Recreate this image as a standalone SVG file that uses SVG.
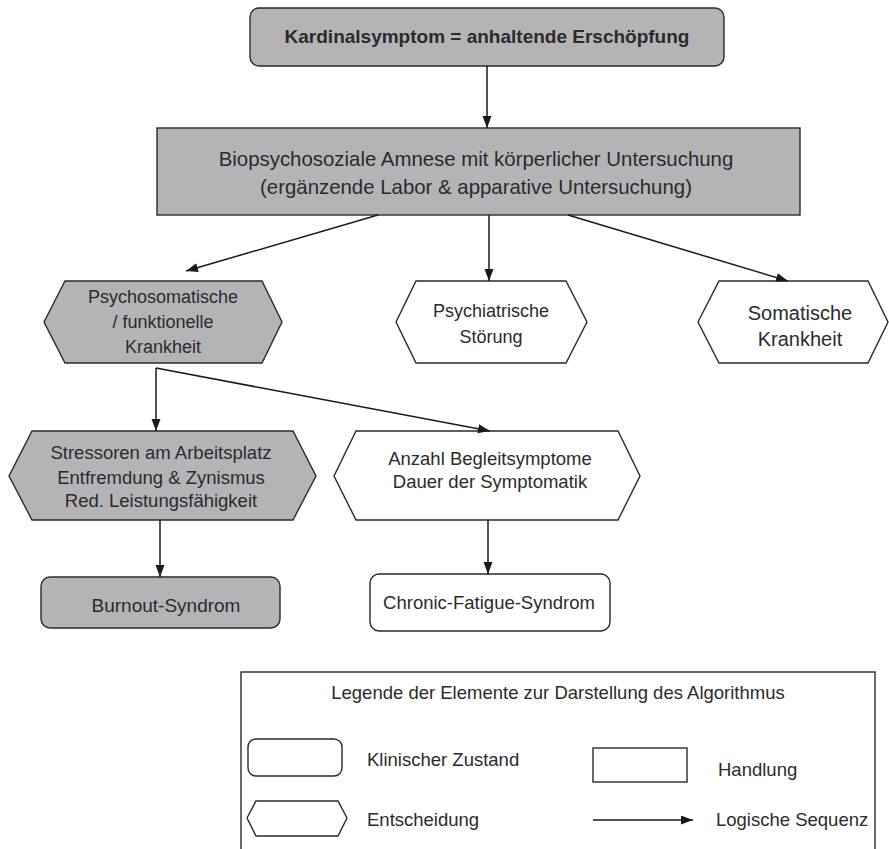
<svg xmlns="http://www.w3.org/2000/svg" width="889" height="849" viewBox="0 0 889 849">
<defs>
<marker id="ah" markerUnits="userSpaceOnUse" markerWidth="13" markerHeight="11" refX="12" refY="4.5" orient="auto">
<path d="M0,0 L12,4.5 L0,9 Z" fill="#1a1a1a"/>
</marker>
</defs>
<style>
.g{fill:#b4b4b7;stroke:#2a2a2a;stroke-width:1.4}
.w{fill:#ffffff;stroke:#2a2a2a;stroke-width:1.4}
.t{font-family:"Liberation Sans",Arial,sans-serif;fill:#2b2b2b;text-anchor:middle}
.l{font-family:"Liberation Sans",Arial,sans-serif;fill:#2b2b2b;font-size:18.5px}
.c{fill:none;stroke:#1a1a1a;stroke-width:1.5;marker-end:url(#ah)}
</style>
<rect width="889" height="849" fill="#ffffff"/>
<g id="n-kardinal">
<rect class="g" x="250" y="8" width="474" height="58" rx="9"/>
<text class="t" x="487" y="43" font-size="19" font-weight="bold">Kardinalsymptom = anhaltende Erschöpfung</text>
</g>
<g id="n-anamnese">
<rect class="g" x="157" y="128" width="643" height="87"/>
<text class="t" x="476" y="166" font-size="20.4">Biopsychosoziale Amnese mit körperlicher Untersuchung</text>
<text class="t" x="476" y="194" font-size="20.4">(ergänzende Labor &amp; apparative Untersuchung)</text>
</g>
<g id="n-psychosomatisch">
<polygon class="g" points="44,322 65,281 262,281 282,322 262,363 65,363"/>
<text class="t" x="163" y="303" font-size="18">Psychosomatische</text>
<text class="t" x="163" y="328" font-size="18">/ funktionelle</text>
<text class="t" x="163" y="353" font-size="18">Krankheit</text>
</g>
<g id="n-psychiatrisch">
<polygon class="w" points="396,322 416,281 566,281 587,322 566,363 416,363"/>
<text class="t" x="491" y="317" font-size="18">Psychiatrische</text>
<text class="t" x="491" y="343" font-size="18">Störung</text>
</g>
<g id="n-somatisch">
<polygon class="w" points="698,322 719,281 868,281 888,322 868,363 719,363"/>
<text class="t" x="800" y="320" font-size="20">Somatische</text>
<text class="t" x="800" y="346" font-size="20">Krankheit</text>
</g>
<g id="n-stressoren">
<polygon class="g" points="9,476 32,431 293,431 316,476 293,520 32,520"/>
<text class="t" x="161" y="459" font-size="18.5">Stressoren am Arbeitsplatz</text>
<text class="t" x="161" y="484" font-size="18.5">Entfremdung &amp; Zynismus</text>
<text class="t" x="161" y="507" font-size="18.5">Red. Leistungsfähigkeit</text>
</g>
<g id="n-anzahl">
<polygon class="w" points="334,476 356,431 618,431 640,476 618,520 356,520"/>
<text class="t" x="490" y="465" font-size="18.5">Anzahl Begleitsymptome</text>
<text class="t" x="490" y="488" font-size="18.5">Dauer der Symptomatik</text>
</g>
<g id="n-burnout">
<rect class="g" x="41" y="577" width="239" height="51" rx="9"/>
<text class="t" x="166" y="612" font-size="19">Burnout-Syndrom</text>
</g>
<g id="n-cfs">
<rect class="w" x="370" y="574" width="240" height="57" rx="9"/>
<text class="t" x="489" y="609" font-size="18.5">Chronic-Fatigue-Syndrom</text>
</g>
<g id="connectors">
<line class="c" x1="487" y1="66" x2="487" y2="128"/>
<line class="c" x1="378" y1="215" x2="186" y2="271"/>
<line class="c" x1="489" y1="215" x2="489" y2="281"/>
<line class="c" x1="568" y1="215" x2="788" y2="281"/>
<line class="c" x1="156" y1="368" x2="156" y2="431"/>
<line class="c" x1="156" y1="368" x2="490" y2="431"/>
<line class="c" x1="160" y1="520" x2="160" y2="577"/>
<line class="c" x1="488" y1="520" x2="488" y2="574"/>
</g>
<g id="legend">
<rect x="241" y="672" width="634" height="190" fill="#ffffff" stroke="#2a2a2a" stroke-width="1.4"/>
<text class="t" x="558" y="699" font-size="18.5">Legende der Elemente zur Darstellung des Algorithmus</text>
<rect class="w" x="248" y="739" width="94" height="37" rx="8"/>
<text class="l" x="367" y="766">Klinischer Zustand</text>
<rect class="w" x="593" y="748" width="94" height="34"/>
<text class="l" x="718" y="776">Handlung</text>
<polygon class="w" points="247,818 256,801 338,801 347,818 338,836 256,836"/>
<text class="l" x="367" y="826">Entscheidung</text>
<line class="c" x1="593" y1="820" x2="693" y2="820"/>
<text class="l" x="716" y="826">Logische Sequenz</text>
</g>
</svg>
